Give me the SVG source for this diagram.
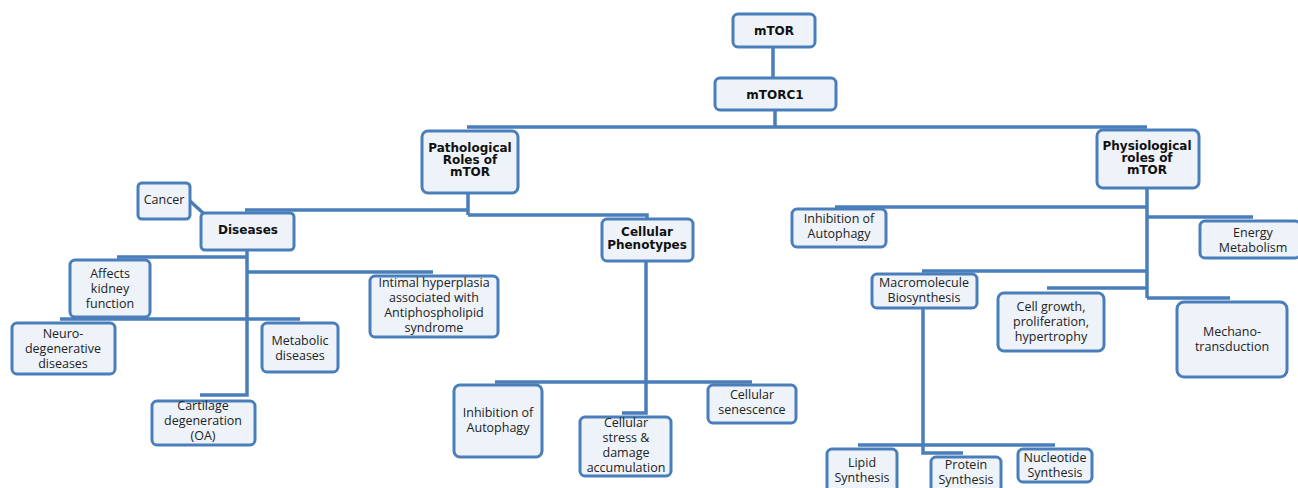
<svg xmlns="http://www.w3.org/2000/svg" width="1298" height="488" viewBox="0 0 1298 488">
<style>
.b{fill:#eef3fa;stroke:#4a7ebb;stroke-width:3}
.c{fill:none;stroke:#4a7ebb;stroke-width:3.5}
.t{font-family:"Open Sans",sans-serif;font-size:12.5px;fill:#222;text-anchor:middle}
.h{font-family:"DejaVu Sans",sans-serif;font-weight:bold;font-size:12px;fill:#111;text-anchor:middle}
</style>
<rect width="1298" height="488" fill="#fff"/>
<g id="connectors">
<path class="c" d="M773 47V79"/>
<path class="c" d="M775 110V127M467 127H1147"/>
<path class="c" d="M468 193V215M245 210H468M468 215H647V220"/>
<path class="c" d="M190 201L203 213"/>
<path class="c" d="M247 250V395H200M117 257H247M247 272H433M60 319H300"/>
<path class="c" d="M646 261V413H622M495 382H752"/>
<path class="c" d="M1147 188V298M835 207H1147M1147 217H1253M922 271H1147M1047 288H1147M1147 298H1230"/>
<path class="c" d="M923 308V453H963M858 445H1055"/>
</g>
<g id="mtor"><rect class="b" x="733" y="14" width="82" height="33" rx="5"/><text class="h" x="774" y="35" font-size="13">mTOR</text></g>
<g id="mtorc1"><rect class="b" x="715" y="78" width="121" height="32" rx="5"/><text class="h" x="775" y="99" font-size="13">mTORC1</text></g>
<g id="pathological"><rect class="b" x="422" y="131" width="96" height="62" rx="6"/><text class="h" x="470" y="152">Pathological</text><text class="h" x="470" y="164">Roles of</text><text class="h" x="470" y="176">mTOR</text></g>
<g id="physiological"><rect class="b" x="1097" y="130" width="102" height="58" rx="6"/><text class="h" x="1147" y="150">Physiological</text><text class="h" x="1147" y="162">roles of</text><text class="h" x="1147" y="174">mTOR</text></g>
<g id="cancer"><rect class="b" x="138" y="183" width="52" height="36" rx="4"/><text class="t" x="164" y="204">Cancer</text></g>
<g id="diseases"><rect class="b" x="201" y="213" width="93" height="37" rx="4"/><text class="h" x="248" y="234">Diseases</text></g>
<g id="kidney"><rect class="b" x="70" y="260" width="80" height="57" rx="5"/><text class="t" x="110" y="278">Affects</text><text class="t" x="110" y="293">kidney</text><text class="t" x="110" y="308">function</text></g>
<g id="intimal"><rect class="b" x="370" y="276" width="128" height="61" rx="5"/><text class="t" x="434" y="287">Intimal hyperplasia</text><text class="t" x="434" y="302">associated with</text><text class="t" x="434" y="317">Antiphospholipid</text><text class="t" x="434" y="332">syndrome</text></g>
<g id="neuro"><rect class="b" x="12" y="323" width="103" height="51" rx="5"/><text class="t" x="63" y="338">Neuro-</text><text class="t" x="63" y="353">degenerative</text><text class="t" x="63" y="368">diseases</text></g>
<g id="metabolic"><rect class="b" x="262" y="323" width="76" height="49" rx="5"/><text class="t" x="300" y="345">Metabolic</text><text class="t" x="300" y="360">diseases</text></g>
<g id="cartilage"><rect class="b" x="152" y="401" width="103" height="44" rx="5"/><text class="t" x="203" y="410">Cartilage</text><text class="t" x="203" y="425">degeneration</text><text class="t" x="203" y="440">(OA)</text></g>
<g id="cellular-phenotypes"><rect class="b" x="602" y="219" width="91" height="42" rx="5"/><text class="h" x="647" y="236">Cellular</text><text class="h" x="647" y="249">Phenotypes</text></g>
<g id="inhibition-left"><rect class="b" x="454" y="385" width="88" height="72" rx="6"/><text class="t" x="498" y="417">Inhibition of</text><text class="t" x="498" y="432">Autophagy</text></g>
<g id="stress"><rect class="b" x="580" y="417" width="91" height="59" rx="5"/><text class="t" x="626" y="427">Cellular</text><text class="t" x="626" y="442">stress &amp;</text><text class="t" x="626" y="457">damage</text><text class="t" x="626" y="472">accumulation</text></g>
<g id="senescence"><rect class="b" x="708" y="385" width="88" height="38" rx="5"/><text class="t" x="752" y="399">Cellular</text><text class="t" x="752" y="414">senescence</text></g>
<g id="inhibition-right"><rect class="b" x="792" y="209" width="94" height="38" rx="5"/><text class="t" x="839" y="223">Inhibition of</text><text class="t" x="839" y="238">Autophagy</text></g>
<g id="energy"><rect class="b" x="1200" y="221" width="100" height="37" rx="5"/><text class="t" x="1253" y="237">Energy</text><text class="t" x="1253" y="252">Metabolism</text></g>
<g id="macromolecule"><rect class="b" x="872" y="274" width="105" height="34" rx="5"/><text class="t" x="924" y="287">Macromolecule</text><text class="t" x="924" y="302">Biosynthesis</text></g>
<g id="cell-growth"><rect class="b" x="998" y="293" width="106" height="58" rx="6"/><text class="t" x="1051" y="311">Cell growth,</text><text class="t" x="1051" y="326">proliferation,</text><text class="t" x="1051" y="341">hypertrophy</text></g>
<g id="mechano"><rect class="b" x="1177" y="302" width="110" height="75" rx="7"/><text class="t" x="1232" y="336">Mechano-</text><text class="t" x="1232" y="351">transduction</text></g>
<g id="lipid"><rect class="b" x="827" y="449" width="70" height="48" rx="5"/><text class="t" x="862" y="467">Lipid</text><text class="t" x="862" y="482">Synthesis</text></g>
<g id="protein"><rect class="b" x="931" y="457" width="70" height="40" rx="5"/><text class="t" x="966" y="469">Protein</text><text class="t" x="966" y="484">Synthesis</text></g>
<g id="nucleotide"><rect class="b" x="1018" y="449" width="74" height="33" rx="5"/><text class="t" x="1055" y="462">Nucleotide</text><text class="t" x="1055" y="477">Synthesis</text></g>
</svg>
